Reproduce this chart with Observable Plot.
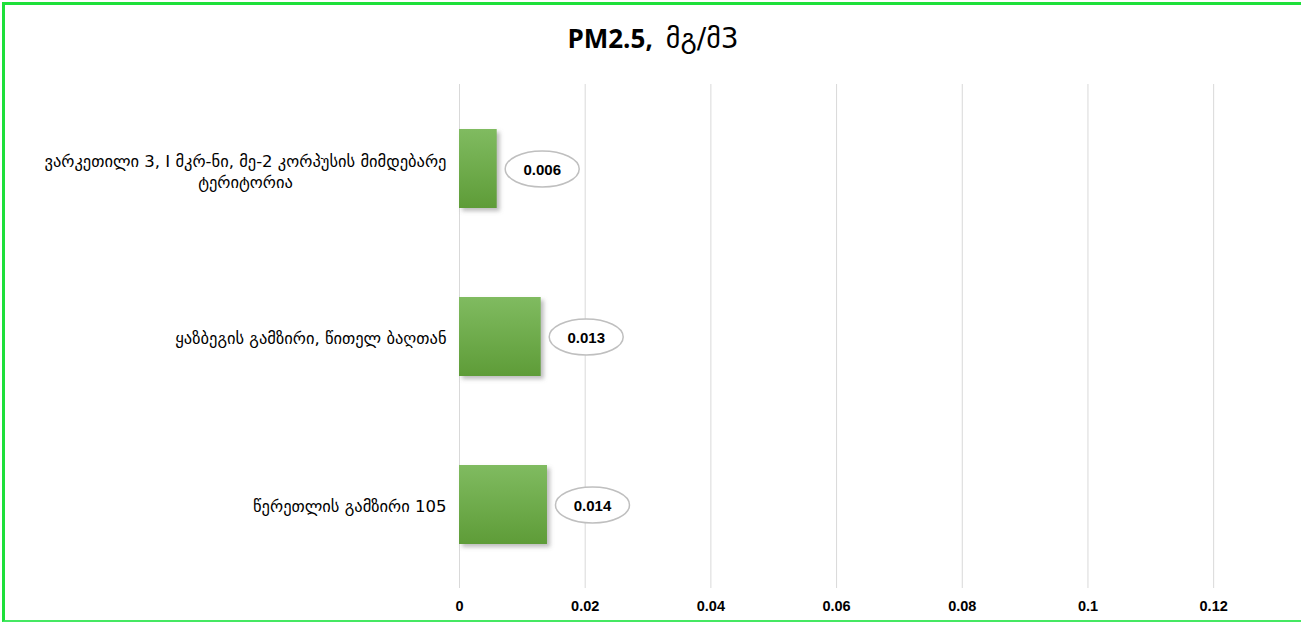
<!DOCTYPE html>
<html>
<head>
<meta charset="utf-8">
<script src="https://cdn.jsdelivr.net/npm/d3@7"></script>
<script src="https://cdn.jsdelivr.net/npm/@observablehq/plot@0.6"></script>
<style>
  html, body { margin: 0; padding: 0; background: #fff; }
  #frame {
    margin: 2px 0 0 2px;
    width: 1299px;
    border-top: 3px solid #1ee03a;
    border-left: 3px solid #1ee03a;
    border-bottom: 2px solid #45e862;
    box-sizing: border-box;
  }
  #title {
    height: 70px;
    box-sizing: border-box;
    padding-top: 18px;
    text-align: center;
    font-size: 26px;
    line-height: 30px;
    color: #000;
  }
  #title .a { font-family: "Open Sans", "Liberation Sans", sans-serif; font-weight: 700; }
  #title .b { font-family: "DejaVu Sans", sans-serif; font-weight: 400; font-size: 28px; }
  #chart svg { display: block; }
</style>
</head>
<body>
<div id="frame">
  <div id="title"><span class="a">PM2.5,</span>&nbsp; <span class="b">მგ/მ3</span></div>
  <div id="chart"></div>
</div>
<script>
const categories = [
  "ვარკეთილი 3, I მკრ-ნი, მე-2 კორპუსის მიმდებარე ტერიტორია",
  "ყაზბეგის გამზირი, წითელ ბაღთან",
  "წერეთლის გამზირი 105"
];
const values = [0.006, 0.013, 0.014];
const xTicks = [0, 0.02, 0.04, 0.06, 0.08, 0.1, 0.12];

const rows = categories.map((c, i) => ({category: c, value: values[i]}));

// wrap long label into two lines
const labelSize = 16.5;
const ctx = document.createElement("canvas").getContext("2d");
ctx.font = `${labelSize}px 'DejaVu Sans'`;
const labelRows = rows.map(r => {
  let l1 = r.category, l2 = "";
  if (r.category.length > 40) {
    const k = r.category.lastIndexOf(" ");
    l1 = r.category.slice(0, k);
    l2 = r.category.slice(k + 1);
  }
  return {...r, l1, l2, w1: ctx.measureText(l1).width};
});
const wrapped = labelRows.filter(d => d.l2);
const single = labelRows.filter(d => !d.l2);

const ellipse = {
  draw(c) {
    const rx = 37, ry = 18, k = 0.5523;
    c.moveTo(rx, 0);
    c.bezierCurveTo(rx, ry * k, rx * k, ry, 0, ry);
    c.bezierCurveTo(-rx * k, ry, -rx, ry * k, -rx, 0);
    c.bezierCurveTo(-rx, -ry * k, -rx * k, -ry, 0, -ry);
    c.bezierCurveTo(rx * k, -ry, rx, -ry * k, rx, 0);
    c.closePath();
  }
};

const chart = Plot.plot({
  width: 1296,
  height: 545,
  marginLeft: 454,
  marginRight: 25,
  marginTop: 9,
  marginBottom: 32,
  style: {fontFamily: "'Liberation Sans', sans-serif", fontSize: "14.5px", color: "#000", background: "#fff"},
  x: {domain: [0, 0.13], ticks: xTicks, tickSize: 0, tickPadding: 12, label: null,
      tickFormat: d => String(Math.round(d * 100) / 100)},
  y: {domain: categories, paddingInner: 0.53, paddingOuter: 0.265, axis: null},
  marks: [
    Plot.ruleX(xTicks, {stroke: "#d9d9d9", strokeWidth: 1}),
    Plot.barX(rows, {x: "value", y: "category", fill: "#7a7a7a", fillOpacity: 0.5, dx: 3, dy: 3}),
    Plot.barX(rows, {x: "value", y: "category", fill: "url(#barGrad)"}),
    Plot.dot(rows, {x: "value", y: "category", symbol: ellipse, r: 10, fill: "white", stroke: "#bfbfbf", strokeWidth: 1.5, dx: 45}),
    Plot.text(rows, {x: "value", y: "category", text: d => d3.format(".3f")(d.value), dx: 45, dy: 1,
      fontFamily: "'Liberation Sans', sans-serif", fontWeight: "bold", fontSize: 15, fill: "#000"}),
    Plot.text(single, {x: 0, y: "category", text: "l1", textAnchor: "end", dx: -13, dy: 2,
      fontFamily: "'DejaVu Sans'", fontSize: labelSize, fill: "#000"}),
    Plot.text(wrapped, {x: 0, y: "category", text: "l1", textAnchor: "end", dx: -13, dy: -7,
      fontFamily: "'DejaVu Sans'", fontSize: labelSize, fill: "#000"}),
    Plot.text(wrapped, {x: 0, y: "category", text: "l2", textAnchor: "middle", dx: -13, dy: 14,
      fontFamily: "'DejaVu Sans'", fontSize: labelSize, fill: "#000"})
  ]
});

// defs for gradient and shadow blur
const sel = d3.select(chart);
const defs = sel.insert("defs", ":first-child");
const g = defs.append("linearGradient").attr("id", "barGrad").attr("x1", 0).attr("y1", 0).attr("x2", 0).attr("y2", 1);
g.append("stop").attr("offset", "0%").attr("stop-color", "#80bb60");
g.append("stop").attr("offset", "100%").attr("stop-color", "#5e9c38");
const f = defs.append("filter").attr("id", "blur").attr("x", "-20%").attr("y", "-20%").attr("width", "140%").attr("height", "140%");
f.append("feGaussianBlur").attr("stdDeviation", 2);
const barGroups = sel.selectAll('g[aria-label="bar"]').nodes();
if (barGroups[0]) barGroups[0].setAttribute("filter", "url(#blur)");
// center the second line of the wrapped label under its first line
const textGroups = sel.selectAll('g[aria-label="text"]').nodes();
const last = textGroups[textGroups.length - 1];
if (last) {
  d3.select(last).selectAll("text").each(function(_, i) {
    const w = wrapped[i].w1;
    const t = this.getAttribute("transform") || "";
    this.setAttribute("transform", t + ` translate(${-w / 2},0)`);
  });
}
sel.selectAll('g[aria-label="x-axis tick label"], g[aria-label="x-axis"]').attr("font-weight", "bold");
document.getElementById("chart").append(chart);
</script>
</body>
</html>
